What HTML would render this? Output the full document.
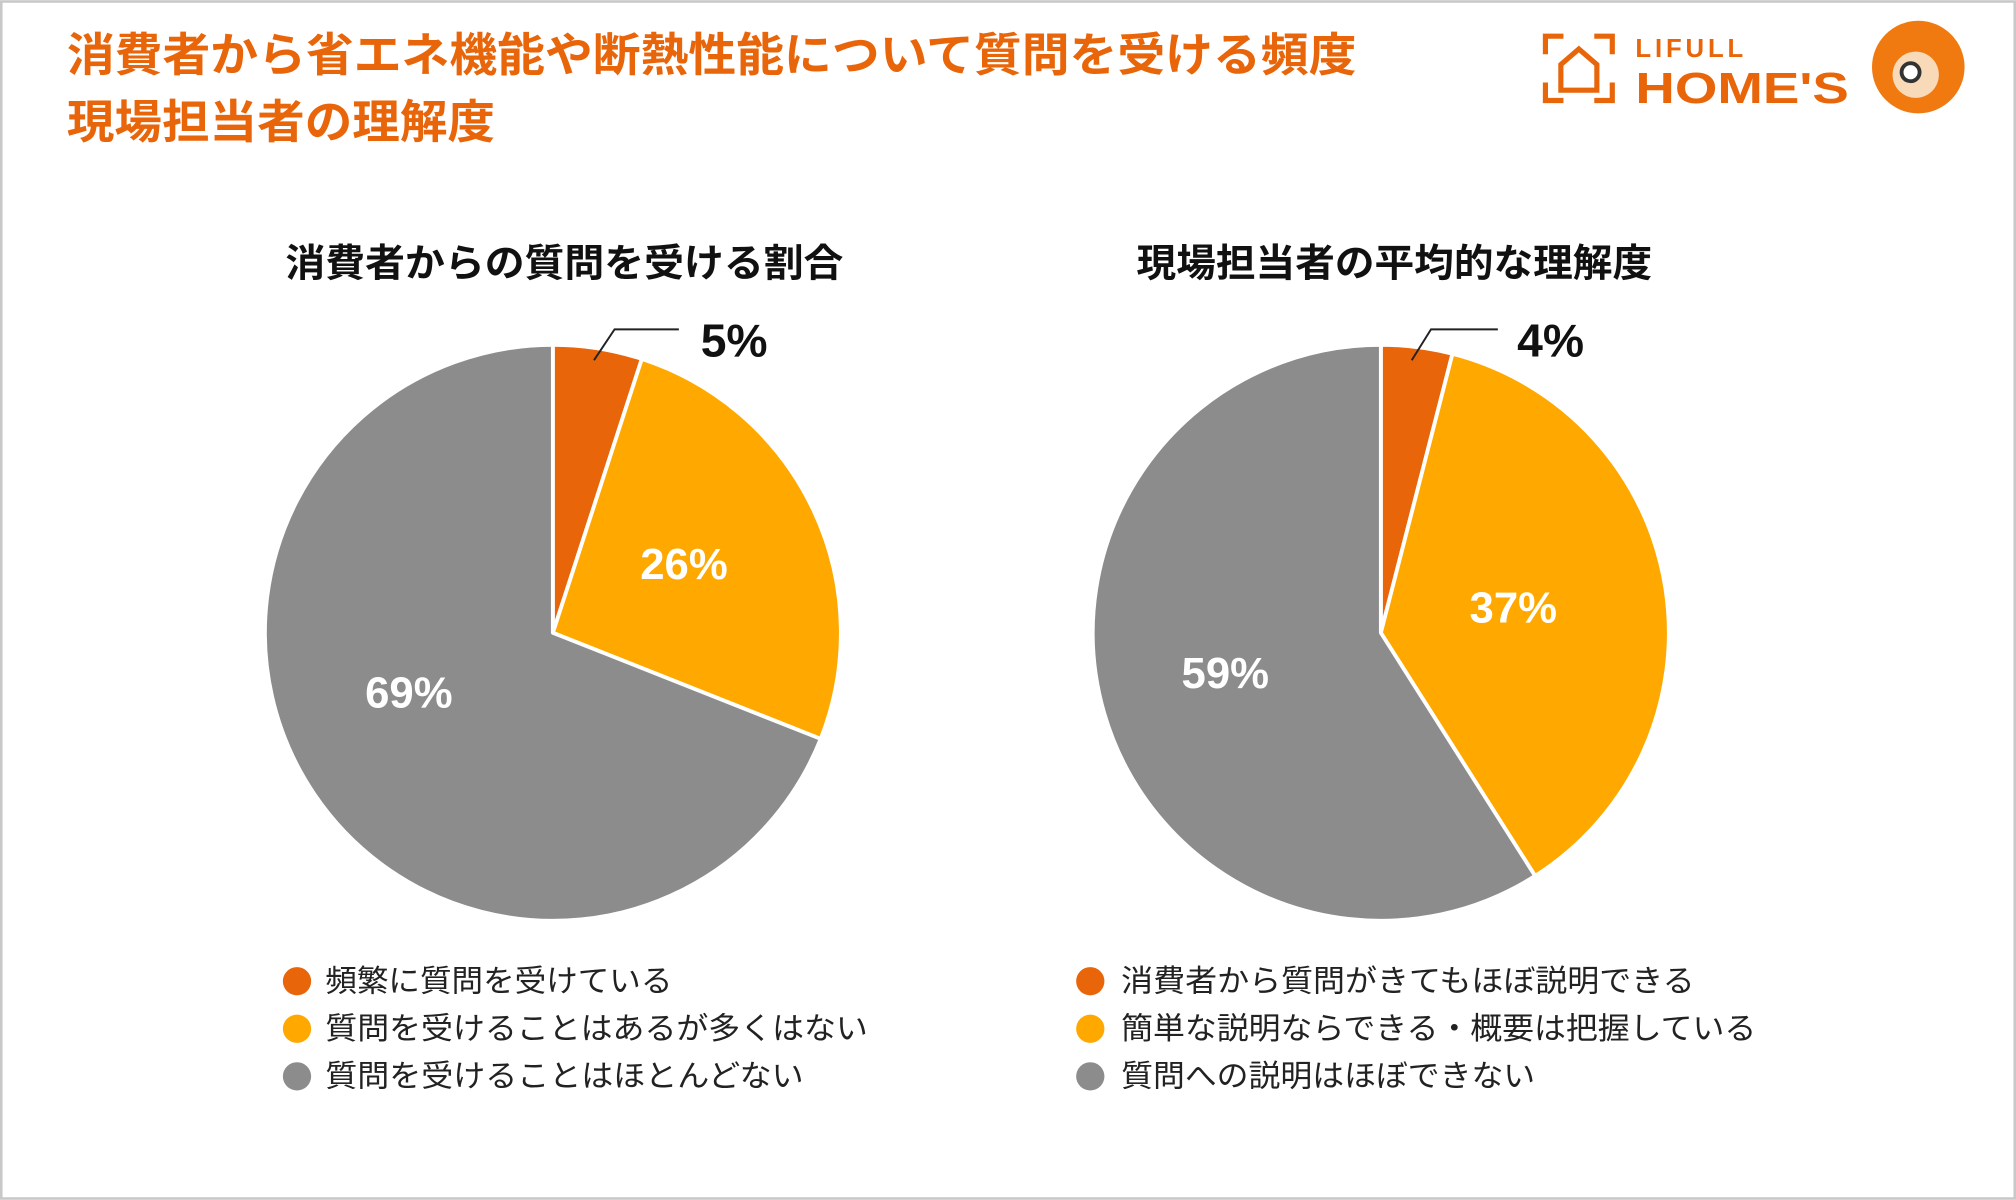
<!DOCTYPE html>
<html><head><meta charset="utf-8"><style>
html,body{margin:0;padding:0;background:#fff;}
svg{display:block;}
text{font-family:"Liberation Sans","Noto Sans CJK JP",sans-serif;}
</style></head><body>
<svg width="2016" height="1200" viewBox="0 0 1568 933" xmlns="http://www.w3.org/2000/svg">
<rect x="1" y="1" width="1566" height="931" fill="#fff" stroke="#c8c8c8" stroke-width="2"/>
<g fill="#E8650A" font-weight="bold" font-size="36">
<text x="52" y="55" textLength="1003" lengthAdjust="spacingAndGlyphs">消費者から省エネ機能や断熱性能について質問を受ける頻度</text>
<text x="52" y="107" textLength="333" lengthAdjust="spacingAndGlyphs">現場担当者の理解度</text>
</g>
<g stroke="#E8650A" stroke-width="4" fill="none">
<path d="M1202 42 v-14 h14 M1240 28 h14 v14 M1202 64 v14 h14 M1240 78 h14 v-14"/>
<path d="M1214 70 v-20 l14 -12 l14 12 v20 z"/>
</g>
<g fill="#E8650A" font-weight="bold">
<text x="1272" y="44" font-size="20" letter-spacing="3">LIFULL</text>
<text x="1272" y="80" font-size="34" textLength="166" lengthAdjust="spacingAndGlyphs">HOME'S</text>
</g>
<circle cx="1492" cy="52" r="36" fill="#F07A10"/>
<circle cx="1490" cy="58" r="18" fill="#F8D9B8"/>
<circle cx="1486" cy="56" r="7" fill="#fff" stroke="#333" stroke-width="3"/>
<g font-weight="bold" font-size="30" fill="#111">
<text x="222" y="215" textLength="434" lengthAdjust="spacingAndGlyphs">消費者からの質問を受ける割合</text>
<text x="884" y="215" textLength="401" lengthAdjust="spacingAndGlyphs">現場担当者の平均的な理解度</text>
</g>
<g stroke="#fff" stroke-width="3" stroke-linejoin="round">
<path d="M430 492 L430 268 A224 224 0 0 1 499.2 279 Z" fill="#E8650A"/>
<path d="M430 492 L499.2 279 A224 224 0 0 1 638.3 574.5 Z" fill="#FFA800"/>
<path d="M430 492 L638.3 574.5 A224 224 0 1 1 430 268 Z" fill="#8C8C8C"/>
</g>
<g stroke="#fff" stroke-width="3" stroke-linejoin="round">
<path d="M1074 492 L1074 268 A224 224 0 0 1 1129.7 275 Z" fill="#E8650A"/>
<path d="M1074 492 L1129.7 275 A224 224 0 0 1 1194 681.1 Z" fill="#FFA800"/>
<path d="M1074 492 L1194 681.1 A224 224 0 1 1 1074 268 Z" fill="#8C8C8C"/>
</g>
<g stroke="#222" stroke-width="1.5" fill="none">
<path d="M462 280 L478 256 H528"/>
<path d="M1098 280 L1113 256 H1165"/>
</g>
<g font-size="36" fill="#111" font-weight="bold">
<text x="545" y="277">5%</text>
<text x="1180" y="277">4%</text>
</g>
<g font-size="34" fill="#fff" font-weight="bold" text-anchor="middle">
<text x="532" y="450">26%</text>
<text x="318" y="550">69%</text>
<text x="1177" y="484">37%</text>
<text x="953" y="535">59%</text>
</g>
<g font-size="24" fill="#222">
<circle cx="231" cy="763" r="11" fill="#E8650A"/><text x="253" y="771" textLength="270" lengthAdjust="spacingAndGlyphs">頻繁に質問を受けている</text>
<circle cx="231" cy="800" r="11" fill="#FFA800"/><text x="253" y="808" textLength="422" lengthAdjust="spacingAndGlyphs">質問を受けることはあるが多くはない</text>
<circle cx="231" cy="837" r="11" fill="#8C8C8C"/><text x="253" y="845" textLength="372" lengthAdjust="spacingAndGlyphs">質問を受けることはほとんどない</text>
<circle cx="848" cy="763" r="11" fill="#E8650A"/><text x="872" y="771" textLength="446" lengthAdjust="spacingAndGlyphs">消費者から質問がきてもほぼ説明できる</text>
<circle cx="848" cy="800" r="11" fill="#FFA800"/><text x="872" y="808" textLength="494" lengthAdjust="spacingAndGlyphs">簡単な説明ならできる・概要は把握している</text>
<circle cx="848" cy="837" r="11" fill="#8C8C8C"/><text x="872" y="845" textLength="322" lengthAdjust="spacingAndGlyphs">質問への説明はほぼできない</text>
</g>
</svg>
</body></html>
